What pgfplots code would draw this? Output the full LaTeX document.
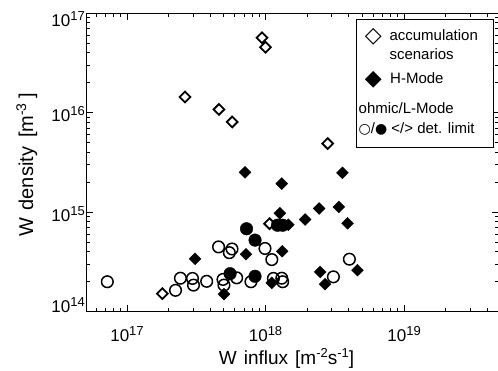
\documentclass[border=0pt]{standalone}
\usepackage{fontspec}
\setmainfont{Liberation Sans}
\newfontfamily\djfont{DejaVu Sans}
\usepackage{pgfplots}
\pgfplotsset{compat=1.18}
\newcommand{\tl}[1]{10\raisebox{6pt}{\fontsize{13}{13}\selectfont #1}}
\newcommand{\sps}[1]{\raisebox{7pt}{\fontsize{13}{13}\selectfont #1}}
\begin{document}
\begin{tikzpicture}
\useasboundingbox (-86pt,-58.3pt) rectangle (412pt,311.7pt);
\begin{axis}[
  at={(0,0)}, anchor=south west,
  scale only axis, width=413pt, height=298.4pt,
  xmode=log, ymode=log,
  xmin=5.06e16, xmax=4.85e19, ymin=1e14, ymax=1e17,
  xtick={1e16,1e17,1e18,1e19,1e20},
  xticklabels={\tl{16},\tl{17},\tl{18},\tl{19},\tl{20}},
  ytick={1e14,1e15,1e16,1e17},
  yticklabels={\raisebox{8pt}{\tl{14}},\tl{15},\tl{16},\raisebox{-4.4pt}{\tl{17}}},
  xticklabel style={anchor=base, yshift=-30.3pt, font=\fontsize{17}{17}\selectfont},
  yticklabel style={anchor=base east, inner sep=0pt, xshift=-1pt, yshift=-9pt, font=\fontsize{17}{17}\selectfont},
  tick align=inside,
  major tick length=7pt, minor tick length=4pt,
  every tick/.style={line width=0.9pt, black},
  axis line style={line width=1pt},
  xlabel={W\hspace{7pt}influx\hspace{7pt}[m\sps{-2}s\sps{-1}]},
  ylabel={\fontsize{20}{20}\selectfont W\hspace{7pt}density\hspace{9pt}[m\raisebox{7pt}{\fontsize{14}{14}\selectfont -3}\hspace{5pt}]},
  label style={font=\fontsize{19}{19}\selectfont},
  xlabel style={at={(axis description cs:0.5,0)}, anchor=base, yshift=-53.3pt, xshift=-6pt},
  ylabel style={at={(axis description cs:0,0.5)}, anchor=base, xshift=-2pt, yshift=53pt},
]
% ohmic/L-mode below detection limit (open circles)
\addplot[only marks, mark=o, mark size=5.8pt, mark options={line width=1.5pt, black}] coordinates {
(7.21e16,2.00e14) (2.24e17,1.64e14) (2.43e17,2.17e14) (2.97e17,2.16e14) (3.02e17,1.85e14)
(3.76e17,2.02e14) (4.58e17,4.48e14) (5.48e17,3.92e14) (5.73e17,4.27e14) (4.93e17,2.11e14)
(5.01e17,1.85e14) (6.19e17,2.19e14) (7.85e17,2.00e14) (9.91e17,4.32e14) (1.11e18,3.34e14)
(1.14e18,2.16e14) (1.31e18,2.17e14) (1.33e18,2.00e14) (3.09e18,2.24e14) (4.03e18,3.37e14)
};
% ohmic/L-mode above detection limit (filled circles)
\addplot[only marks, mark=*, mark size=6.3pt, mark options={black, fill=black}] coordinates {
(5.55e17,2.41e14) (7.29e17,6.82e14) (8.40e17,5.24e14) (8.40e17,2.27e14) (1.22e18,7.40e14) (1.33e18,7.40e14)
};
% H-Mode (filled diamonds)
\addplot[only marks, mark=square*, mark size=4.2pt, mark options={rotate=45, black, fill=black}] coordinates {
(3.10e17,3.40e14) (5.01e17,1.50e14) (7.23e17,3.78e14) (7.11e17,2.52e15) (1.31e18,1.94e15)
(1.27e18,9.77e14) (1.46e18,7.48e14) (1.93e18,8.45e14) (2.44e18,1.09e15) (3.38e18,1.13e15)
(3.59e18,2.49e15) (3.91e18,7.74e14) (1.32e18,4.05e14) (1.11e18,1.95e14) (2.48e18,2.51e14)
(2.69e18,1.89e14) (4.61e18,2.61e14)
};
% accumulation scenarios (open diamonds)
\addplot[only marks, mark=square, mark size=3.8pt, mark options={rotate=45, black, line width=1.8pt, fill=white}] coordinates {
(1.80e17,1.52e14) (2.62e17,1.44e16) (4.61e17,1.08e16) (5.75e17,8.09e15) (9.44e17,5.68e16)
(1.00e18,4.55e16) (2.81e18,4.90e15) (1.07e18,7.66e14)
};
\end{axis}
% legend
\draw[line width=0.9pt, fill=white] (270pt,164.7pt) rectangle (407pt,292.7pt);
\node[anchor=center, inner sep=0pt] at (287.3pt,275pt) {\djfont\fontsize{22}{22}\selectfont ◇};
\node[anchor=base west, inner sep=0pt] at (303.3pt,270.7pt) {\fontsize{15}{15}\selectfont accumulation};
\node[anchor=base west, inner sep=0pt] at (303.3pt,252.4pt) {\fontsize{15}{15}\selectfont scenarios};
\node[anchor=center, inner sep=0pt] at (287.3pt,231.7pt) {\djfont\fontsize{22}{22}\selectfont ◆};
\node[anchor=base west, inner sep=0pt] at (304pt,227.7pt) {\fontsize{15}{15}\selectfont H-Mode};
\node[anchor=base west, inner sep=0pt] at (272.5pt,198.4pt) {\fontsize{15}{15}\selectfont ohmic/L-Mode};
\node[anchor=base west, inner sep=0pt] at (272.5pt,177.7pt) {\fontsize{15}{15}\selectfont{\djfont\fontsize{14}{14}\selectfont ○}/{\djfont\fontsize{14}{14}\selectfont ●} </> det. limit};
\end{tikzpicture}
\end{document}
